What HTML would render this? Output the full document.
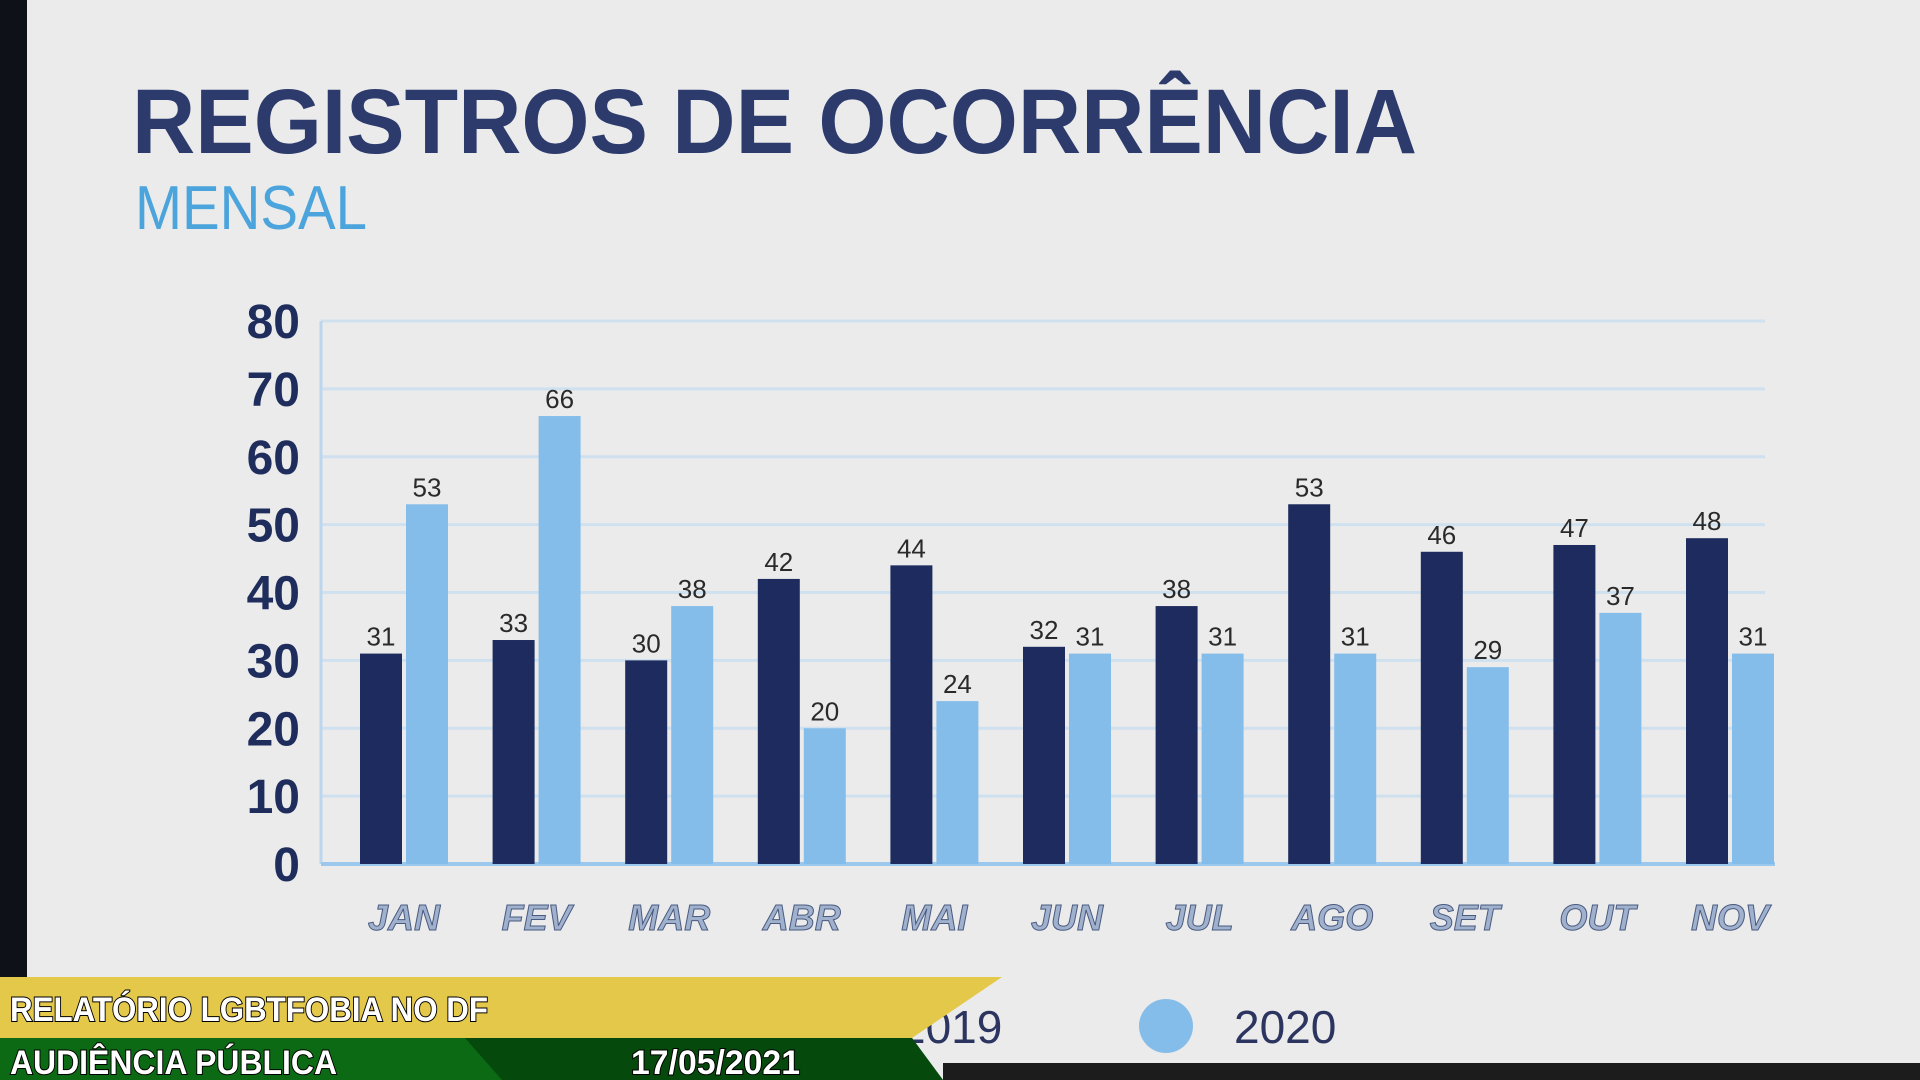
<!DOCTYPE html>
<html><head><meta charset="utf-8"><style>
html,body{margin:0;padding:0;width:1920px;height:1080px;overflow:hidden;background:#ebebeb;}
svg{display:block;font-family:"Liberation Sans",sans-serif;}
</style></head><body>
<svg id="s" width="1920" height="1080" viewBox="0 0 1920 1080">
<rect x="0" y="0" width="1920" height="1080" fill="#ebebeb"/>
<rect x="0" y="0" width="27" height="1080" fill="#0e1218"/>
<text x="132" y="153" font-size="92" font-weight="bold" fill="#2c3b6c" textLength="1285" lengthAdjust="spacingAndGlyphs">REGISTROS DE OCORRÊNCIA</text>
<text x="135" y="229" font-size="62" fill="#4ba4dc" textLength="232" lengthAdjust="spacingAndGlyphs">MENSAL</text>
<g id="grid"></g><g id="bars"></g><g id="labels"></g>
<g>
<circle cx="825" cy="1026" r="27" fill="#1e2b5e"/>
<text x="900" y="1043" font-size="46" fill="#2c3460">2019</text>
<circle cx="1166" cy="1026" r="27" fill="#85bdea"/>
<text x="1234" y="1043" font-size="46" fill="#2c3460">2020</text>
</g>
<rect x="943" y="1063" width="977" height="17" fill="#1c1c1c"/>
<polygon points="0,977 1002,977 912,1038 0,1038" fill="#e4c84a"/>
<polygon points="0,1038 912,1038 943,1080 0,1080" fill="#0c6a14"/>
<polygon points="465,1038 912,1038 943,1080 502,1080" fill="#054a0c"/>
<g font-weight="bold" fill="#fff" stroke="#000" stroke-width="2" paint-order="stroke" font-size="34">
<text x="10" y="1021" textLength="478" lengthAdjust="spacingAndGlyphs">RELATÓRIO LGBTFOBIA NO DF</text>
<text x="10" y="1074" textLength="327" lengthAdjust="spacingAndGlyphs">AUDIÊNCIA PÚBLICA</text>
<text x="631" y="1074" textLength="169" lengthAdjust="spacingAndGlyphs">17/05/2021</text>
</g>
</svg>
<script>
const categories=["JAN","FEV","MAR","ABR","MAI","JUN","JUL","AGO","SET","OUT","NOV"];
const values2019=[31,33,30,42,44,32,38,53,46,47,48];
const values2020=[53,66,38,20,24,31,31,31,29,37,31];
const yTicks=[0,10,20,30,40,50,60,70,80];
const NS="http://www.w3.org/2000/svg";
const y0=864,y80=321,xL=321,xR=1765,x0=404,step=132.6,bw=42;
function y(v){return y0-(v/80)*(y0-y80);}
function xc(i){return x0+i*step;}
function mk(tag,attrs,parent){const e=document.createElementNS(NS,tag);for(const k in attrs)e.setAttribute(k,attrs[k]);parent.appendChild(e);return e;}
const grid=document.getElementById('grid'),bars=document.getElementById('bars'),labels=document.getElementById('labels');
yTicks.forEach(t=>{
 if(t>0){const l=mk('line',{x1:xL,x2:xR,y1:y(t),y2:y(t),stroke:'#cfe0ef','stroke-width':3},grid);
 
 }
 const tx=mk('text',{x:300,y:y(t)+17,'text-anchor':'end','font-size':48,'font-weight':'bold',fill:'#1f2d5c'},labels);
 tx.textContent=t;
 
 
});
const ax=mk('line',{x1:xL,x2:xL,y1:y80,y2:y0,stroke:'#bcd6ee','stroke-width':3},grid);


const bx=mk('line',{x1:xL,x2:1775,y1:y0,y2:y0,stroke:'#9cc8ee','stroke-width':4},grid);


categories.forEach((c,i)=>{
 [[values2019[i],-bw/2-2,'#1e2b5e','2019'],[values2020[i],bw/2+2,'#85bdea','2020']].forEach(([v,off,col,yr])=>{
  const cx=xc(i)+off;
  const r=mk('rect',{x:cx-bw/2,y:y(v),width:bw,height:y0-y(v),fill:col},bars);
  
  
  const t=mk('text',{x:cx,y:y(v)-8,'text-anchor':'middle','font-size':26,fill:'#2a2a2a'},labels);
  t.textContent=v;
  
  
 });
 const m=mk('text',{x:xc(i),y:930,'text-anchor':'middle','font-size':36,'font-weight':'bold','font-style':'italic',fill:'#9fb1cc',stroke:'#4a5a80','stroke-width':1},labels);
 m.textContent=c;
 
 
});
</script>
</body></html>
